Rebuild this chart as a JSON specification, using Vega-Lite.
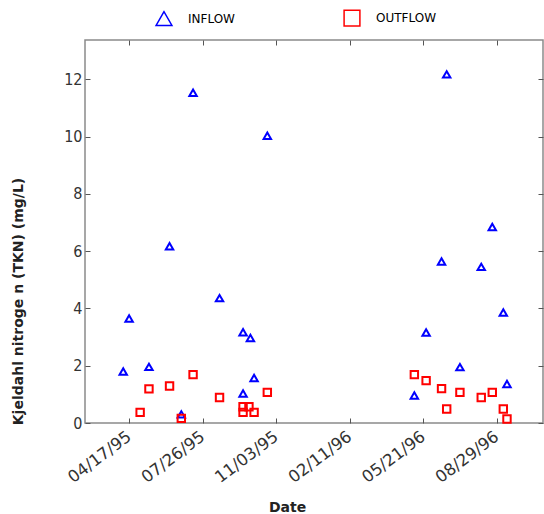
{
  "$schema": "https://vega.github.io/schema/vega-lite/v6.json",
  "autosize": {"type": "none"},
  "padding": {"left": 85, "top": 40, "right": 1, "bottom": 91},
  "width": 458,
  "height": 383,
  "config": {
    "font": "DejaVu Sans",
    "view": {"stroke": "#8a8a8a", "strokeWidth": 1.5},
    "axis": {
      "domain": false,
      "grid": false,
      "tickColor": "#555",
      "tickSize": -5,
      "labelFont": "DejaVu Sans Condensed",
      "labelFontSize": 16,
      "labelColor": "#333",
      "titleFont": "DejaVu Sans",
      "titleFontSize": 14,
      "titleFontWeight": "bold",
      "titleColor": "#222"
    }
  },
  "data": {
    "values": [
      {"date": "1995-04-09", "value": 1.8, "series": "INFLOW"},
      {"date": "1995-04-17", "value": 3.65, "series": "INFLOW"},
      {"date": "1995-05-14", "value": 1.96, "series": "INFLOW"},
      {"date": "1995-06-11", "value": 6.17, "series": "INFLOW"},
      {"date": "1995-06-27", "value": 0.3, "series": "INFLOW"},
      {"date": "1995-07-13", "value": 11.53, "series": "INFLOW"},
      {"date": "1995-08-18", "value": 4.36, "series": "INFLOW"},
      {"date": "1995-09-19", "value": 3.17, "series": "INFLOW"},
      {"date": "1995-09-29", "value": 2.97, "series": "INFLOW"},
      {"date": "1995-09-19", "value": 1.03, "series": "INFLOW"},
      {"date": "1995-10-04", "value": 1.57, "series": "INFLOW"},
      {"date": "1995-10-22", "value": 10.03, "series": "INFLOW"},
      {"date": "1996-05-09", "value": 0.96, "series": "INFLOW"},
      {"date": "1996-05-25", "value": 3.16, "series": "INFLOW"},
      {"date": "1996-06-15", "value": 5.64, "series": "INFLOW"},
      {"date": "1996-06-22", "value": 12.17, "series": "INFLOW"},
      {"date": "1996-07-10", "value": 1.95, "series": "INFLOW"},
      {"date": "1996-08-08", "value": 5.45, "series": "INFLOW"},
      {"date": "1996-08-23", "value": 6.84, "series": "INFLOW"},
      {"date": "1996-09-07", "value": 3.86, "series": "INFLOW"},
      {"date": "1996-09-12", "value": 1.36, "series": "INFLOW"},
      {"date": "1995-05-02", "value": 0.37, "series": "OUTFLOW"},
      {"date": "1995-05-14", "value": 1.19, "series": "OUTFLOW"},
      {"date": "1995-06-11", "value": 1.29, "series": "OUTFLOW"},
      {"date": "1995-06-27", "value": 0.16, "series": "OUTFLOW"},
      {"date": "1995-07-13", "value": 1.69, "series": "OUTFLOW"},
      {"date": "1995-08-18", "value": 0.89, "series": "OUTFLOW"},
      {"date": "1995-09-19", "value": 0.57, "series": "OUTFLOW"},
      {"date": "1995-09-27", "value": 0.57, "series": "OUTFLOW"},
      {"date": "1995-09-19", "value": 0.37, "series": "OUTFLOW"},
      {"date": "1995-10-04", "value": 0.37, "series": "OUTFLOW"},
      {"date": "1995-10-22", "value": 1.07, "series": "OUTFLOW"},
      {"date": "1996-05-09", "value": 1.69, "series": "OUTFLOW"},
      {"date": "1996-05-25", "value": 1.48, "series": "OUTFLOW"},
      {"date": "1996-06-15", "value": 1.2, "series": "OUTFLOW"},
      {"date": "1996-06-22", "value": 0.49, "series": "OUTFLOW"},
      {"date": "1996-07-10", "value": 1.07, "series": "OUTFLOW"},
      {"date": "1996-08-08", "value": 0.89, "series": "OUTFLOW"},
      {"date": "1996-08-23", "value": 1.07, "series": "OUTFLOW"},
      {"date": "1996-09-07", "value": 0.49, "series": "OUTFLOW"},
      {"date": "1996-09-12", "value": 0.14, "series": "OUTFLOW"}
    ]
  },
  "layer": [
    {
      "mark": {"type": "point", "filled": false, "strokeWidth": 2, "size": 55, "opacity": 1},
      "encoding": {
        "x": {
          "field": "date",
          "type": "temporal",
          "title": "Date",
          "scale": {
            "type": "utc",
            "domain": [
              {"year": 1995, "month": 2, "date": 16, "utc": true},
              {"year": 1996, "month": 10, "date": 31, "utc": true}
            ]
          },
          "axis": {
            "values": [
              {"year": 1995, "month": 4, "date": 17, "utc": true},
              {"year": 1995, "month": 7, "date": 26, "utc": true},
              {"year": 1995, "month": 11, "date": 3, "utc": true},
              {"year": 1996, "month": 2, "date": 11, "utc": true},
              {"year": 1996, "month": 5, "date": 21, "utc": true},
              {"year": 1996, "month": 8, "date": 29, "utc": true}
            ],
            "format": "%m/%d/%y",
            "labelFont": "DejaVu Sans",
            "labelFontSize": 16.5,
            "labelAngle": -37,
            "labelAlign": "right",
            "labelBaseline": "top",
            "labelPadding": 10,
            "labelOffset": -5,
            "titleX": 202,
            "titleY": 84,
            "titleBaseline": "middle"
          }
        },
        "y": {
          "field": "value",
          "type": "quantitative",
          "title": "Kjeldahl nitroge n (TKN) (mg/L)",
          "scale": {"domain": [0, 13.37], "nice": false, "zero": false},
          "axis": {
            "values": [0, 2, 4, 6, 8, 10, 12],
            "labelPadding": 8,
            "titleX": -67,
            "titleY": 261,
            "titleAngle": -90,
            "titleBaseline": "middle",
            "titleAlign": "center"
          }
        },
        "shape": {
          "field": "series",
          "type": "nominal",
          "scale": {"domain": ["INFLOW", "OUTFLOW"], "range": ["triangle-up", "square"]},
          "legend": null
        },
        "color": {
          "field": "series",
          "type": "nominal",
          "scale": {"domain": ["INFLOW", "OUTFLOW"], "range": ["#0000ff", "#ff0000"]},
          "legend": {
            "title": null,
            "orient": "none",
            "direction": "horizontal",
            "legendX": 70,
            "legendY": -31,
            "symbolType": "triangle-up",
            "symbolSize": 250,
            "symbolStrokeWidth": 1.5,
            "symbolFillColor": "transparent",
            "labelFont": "DejaVu Sans",
            "labelFontSize": 12,
            "labelOffset": 15,
            "columnPadding": 106,
            "encode": {
              "symbols": {
                "update": {
                  "shape": {"signal": "datum.value === 'INFLOW' ? 'triangle-up' : 'square'"},
                  "fill": {"value": "transparent"}
                }
              },
              "labels": {
                "update": {
                  "fill": {"signal": "datum.value === 'INFLOW' ? '#2020ff' : '#ff2020'"}
                }
              }
            }
          }
        }
      }
    },
    {
      "mark": {"type": "point", "opacity": 0},
      "encoding": {
        "x": {
          "field": "date",
          "type": "temporal",
          "axis": {
            "orient": "top",
            "values": [
              {"year": 1995, "month": 4, "date": 17, "utc": true},
              {"year": 1995, "month": 7, "date": 26, "utc": true},
              {"year": 1995, "month": 11, "date": 3, "utc": true},
              {"year": 1996, "month": 2, "date": 11, "utc": true},
              {"year": 1996, "month": 5, "date": 21, "utc": true},
              {"year": 1996, "month": 8, "date": 29, "utc": true}
            ],
            "labels": false,
            "title": null
          }
        },
        "y": {
          "field": "value",
          "type": "quantitative",
          "axis": {"orient": "right", "values": [0, 2, 4, 6, 8, 10, 12], "labels": false, "title": null}
        }
      }
    }
  ],
  "resolve": {"axis": {"x": "independent", "y": "independent"}}
}
